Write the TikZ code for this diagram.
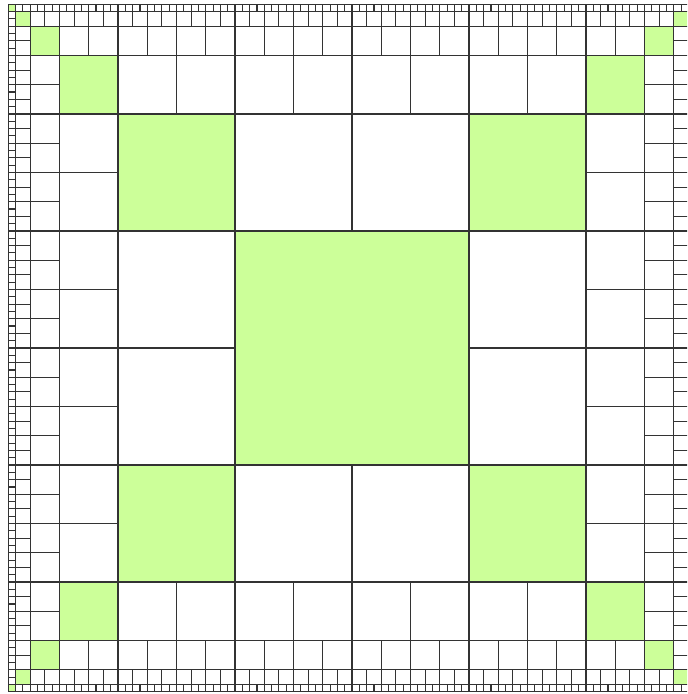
\documentclass[tikz,border=0pt]{standalone}
\definecolor{lightgreen}{RGB}{204,255,153}
\begin{document}
\begin{tikzpicture}[x=2cm, y=2cm,
  cell/.style={draw=black!80, line width=0.55pt},
  greencell/.style={fill=lightgreen},
]
  % Frame
  \useasboundingbox (-3.0085,-2.957) rectangle (2.863,2.974);
  \clip (-3.0085,-2.957) rectangle (2.863,2.974);

  % Centre
  \fill[greencell] (-1,-1) rectangle (1,1);

  % Green corners: cell size / inner half width
  \foreach \s/\h in {1/1, 0.5/2, 0.25/2.5, 0.125/2.75, 0.0625/2.875} {
    \pgfmathsetmacro\H{\h+\s}
    \fill[greencell] (-\H,\h) rectangle ++(\s,\s);
    \fill[greencell] (\h,\h) rectangle ++(\s,\s);
    \fill[greencell] (-\H,-\H) rectangle ++(\s,\s);
    \fill[greencell] (\h,-\H) rectangle ++(\s,\s);
  }

  % Rings of cells, all in one path
  \draw[cell] (-1,-1) rectangle (1,1)
    \foreach \s/\h [evaluate=\s as \H using \h+\s,
                    evaluate=\s as \n using int(round(2*(\h+\s)/\s)-1)]
      in {1/1, 0.5/2, 0.25/2.5, 0.125/2.75, 0.0625/2.875} {
      \foreach \i [evaluate=\i as \x using -\H+\i*\s] in {0,...,\n} {
        (\x,\h) rectangle ++(\s,\s)
        (\x,-\H) rectangle ++(\s,\s)
        (-\H,\x) rectangle ++(\s,\s)
        (\h,\x) rectangle ++(\s,\s)
      }
    };
\end{tikzpicture}
\end{document}
